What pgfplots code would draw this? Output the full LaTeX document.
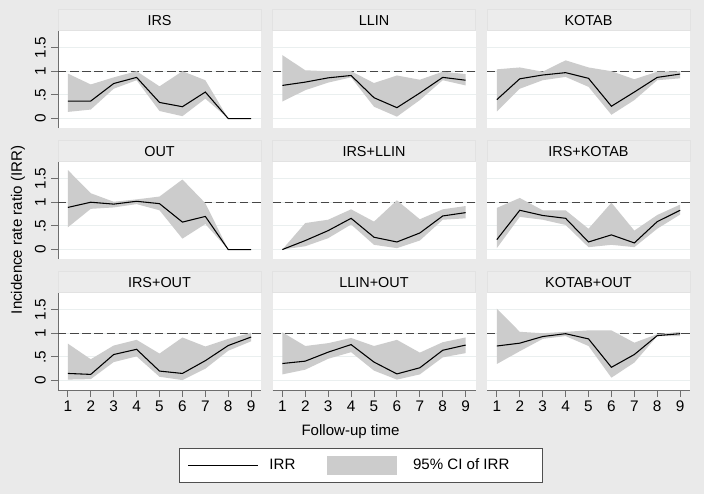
\documentclass[border=0pt]{standalone}
\usepackage{fontspec}
\setmainfont{Liberation Sans}
\usepackage{pgfplots}
\usepackage{pgfplotstable}
\pgfplotsset{compat=1.18}

\definecolor{bgc}{RGB}{234,234,234}
\definecolor{stripc}{RGB}{236,236,236}
\definecolor{stripb}{RGB}{226,226,226}
\definecolor{gridc}{RGB}{234,239,239}
\definecolor{cigray}{RGB}{204,204,204}
\definecolor{dashc}{RGB}{70,70,70}
\definecolor{axc}{RGB}{110,110,110}
\definecolor{legc}{RGB}{80,80,80}

% t = follow-up time, irr = estimate, lo/hi = 95% CI
\pgfplotstableread{
t irr lo hi
1 0.37 0.14 0.95
2 0.37 0.19 0.72
3 0.74 0.63 0.87
4 0.87 0.81 1.00
5 0.34 0.16 0.68
6 0.25 0.05 1.00
7 0.56 0.42 0.81
8 0 0 0
9 0 0 0
}\tIRS
\pgfplotstableread{
t irr lo hi
1 0.70 0.36 1.34
2 0.77 0.60 1.02
3 0.86 0.76 1.00
4 0.91 0.87 1.00
5 0.44 0.25 0.75
6 0.23 0.04 0.91
7 0.54 0.39 0.82
8 0.87 0.81 0.99
9 0.81 0.70 0.94
}\tLLIN
\pgfplotstableread{
t irr lo hi
1 0.40 0.15 1.04
2 0.84 0.63 1.08
3 0.92 0.81 0.99
4 0.97 0.88 1.23
5 0.85 0.67 1.08
6 0.26 0.08 1.00
7 0.56 0.39 0.83
8 0.87 0.81 0.99
9 0.94 0.85 1.00
}\tKOTAB
\pgfplotstableread{
t irr lo hi
1 0.89 0.47 1.68
2 1.00 0.86 1.19
3 0.96 0.89 1.01
4 1.02 0.96 1.06
5 0.97 0.83 1.12
6 0.58 0.23 1.48
7 0.70 0.54 0.98
8 0 0 0
9 0 0 0
}\tOUT
\pgfplotstableread{
t irr lo hi
1 0 0 0
2 0.19 0.07 0.56
3 0.40 0.24 0.63
4 0.66 0.53 0.85
5 0.26 0.10 0.59
6 0.16 0.03 1.04
7 0.35 0.19 0.64
8 0.71 0.63 0.85
9 0.78 0.66 0.92
}\tIRSLLIN
\pgfplotstableread{
t irr lo hi
1 0.21 0.03 0.88
2 0.83 0.69 1.09
3 0.72 0.63 0.83
4 0.66 0.52 0.83
5 0.16 0.05 0.44
6 0.31 0.10 0.99
7 0.14 0.05 0.40
8 0.59 0.44 0.73
9 0.83 0.74 0.95
}\tIRSKOTAB
\pgfplotstableread{
t irr lo hi
1 0.15 0.02 0.78
2 0.13 0.03 0.45
3 0.55 0.39 0.74
4 0.66 0.51 0.86
5 0.20 0.08 0.57
6 0.15 0.01 0.91
7 0.42 0.25 0.72
8 0.74 0.63 0.88
9 0.92 0.83 1.01
}\tIRSOUT
\pgfplotstableread{
t irr lo hi
1 0.36 0.13 1.02
2 0.41 0.23 0.73
3 0.60 0.46 0.79
4 0.76 0.60 0.90
5 0.39 0.21 0.73
6 0.14 0.02 0.86
7 0.27 0.13 0.59
8 0.64 0.49 0.81
9 0.75 0.58 0.91
}\tLLINOUT
\pgfplotstableread{
t irr lo hi
1 0.73 0.35 1.52
2 0.79 0.62 1.03
3 0.93 0.88 1.00
4 0.99 0.94 1.03
5 0.88 0.73 1.06
6 0.28 0.06 1.06
7 0.55 0.38 0.80
8 0.95 0.94 0.98
9 0.99 0.94 1.03
}\tKOTABOUT

\newcommand{\titlefont}{\fontsize{10.8}{13}\selectfont}
\newcommand{\tickfont}{\fontsize{11.5}{13}\selectfont}
\newcommand{\labfont}{\fontsize{11.3}{13}\selectfont}

\pgfplotsset{
  panel/.style={
    scale only axis, width=152.25pt, height=72.75pt, anchor=north west,
    xmin=0.57, xmax=9.43, ymin=-0.2, ymax=1.85,
    axis lines*=left, separate axis lines,
    axis background/.style={fill=white},
    ytick={0,0.5,1,1.5}, yticklabels={0,.5,1,1.5}, xtick={1,...,9},
    ymajorgrids, grid style={draw=gridc, line width=0.75pt},
    tick align=outside, major tick length=5pt,
    /pgf/number format/assume math mode=true,
    axis line style={draw=axc, line width=0.75pt},
    tick style={draw=axc, line width=0.75pt},
    every axis title/.style={at={(0.5,1)}, anchor=south, fill=stripc,
      draw=stripb, line width=0.5pt, minimum width=152.25pt,
      minimum height=15.75pt, inner sep=0pt, font=\titlefont},
    yticklabel style={rotate=90, anchor=south, inner sep=4pt, font=\tickfont},
    xticklabel style={anchor=north, inner sep=3pt, font=\tickfont},
  },
  notleft/.style={y axis line style={draw=none}, ytick style={draw=none}, yticklabels={}},
  notbottom/.style={x axis line style={draw=none}, xtick style={draw=none}, xticklabels={}},
}

% #1 x px, #2 y px, #3 title, #4 table, #5 extra options, #6 extra body
\newcommand{\panel}[6]{%
\begin{axis}[panel, at={(#1*0.75pt,-#2*0.75pt)}, title={#3}, #5]
#6
\addplot[forget plot, dashc, line width=1pt, dash pattern=on 6.3pt off 2.8pt] coordinates {(0.57,1) (9.43,1)};
\addplot[forget plot, draw=none, stack plots=y] table[x=t,y=lo]{#4};
\addplot[forget plot, draw=none, fill=cigray, stack plots=y] table[x=t,y expr=\thisrow{hi}-\thisrow{lo}]{#4} \closedcycle;
\addplot[forget plot, black, line width=0.8pt] table[x=t,y=irr]{#4};
\end{axis}}

\begin{document}
\begin{tikzpicture}
\fill[bgc] (0,0) rectangle (528pt,-370.5pt);
\path[use as bounding box] (0,0) rectangle (528pt,-370.5pt);

\panel{58}{31}{IRS}{\tIRS}{notbottom}{}
\panel{272.5}{31}{LLIN}{\tLLIN}{notbottom,notleft}{}
\panel{487}{31}{KOTAB}{\tKOTAB}{notbottom,notleft}{}
\panel{58}{162}{OUT}{\tOUT}{notbottom}{}
\panel{272.5}{162}{IRS+LLIN}{\tIRSLLIN}{notbottom,notleft}{}
\panel{487}{162}{IRS+KOTAB}{\tIRSKOTAB}{notbottom,notleft}{}
\panel{58}{293}{IRS+OUT}{\tIRSOUT}{}{}
\panel{272.5}{293}{LLIN+OUT}{\tLLINOUT}{notleft,
  legend columns=2,
  legend style={at={(-0.4557,-0.598)}, anchor=north west, draw=legc,
    fill=white, line width=0.75pt, inner xsep=5.8pt, inner ysep=6pt,
    outer sep=0pt, font=\labfont, nodes={inner sep=0pt},
    /tikz/every even column/.append style={column sep=23.7pt}},
  legend cell align=left}{%
\addlegendimage{legend image code/.code={\draw[black, line width=0.9pt] (0pt,0pt) -- (52.2pt,0pt); \path (60.5pt,0pt);}}
\addlegendentry{IRR}
\addlegendimage{legend image code/.code={\fill[cigray] (0pt,-6.6pt) rectangle (52pt,6.6pt); \path (63.8pt,0pt);}}
\addlegendentry{95\% CI of IRR\rule{19pt}{0pt}}}
\panel{487}{293}{KOTAB+OUT}{\tKOTABOUT}{notleft}{}

\node[font=\labfont] at (350.5*0.75pt,-432*0.75pt) {Follow-up time};
\node[font=\labfont, rotate=90] at (18*0.75pt,-230*0.75pt) {Incidence rate ratio (IRR)};
\end{tikzpicture}
\end{document}
